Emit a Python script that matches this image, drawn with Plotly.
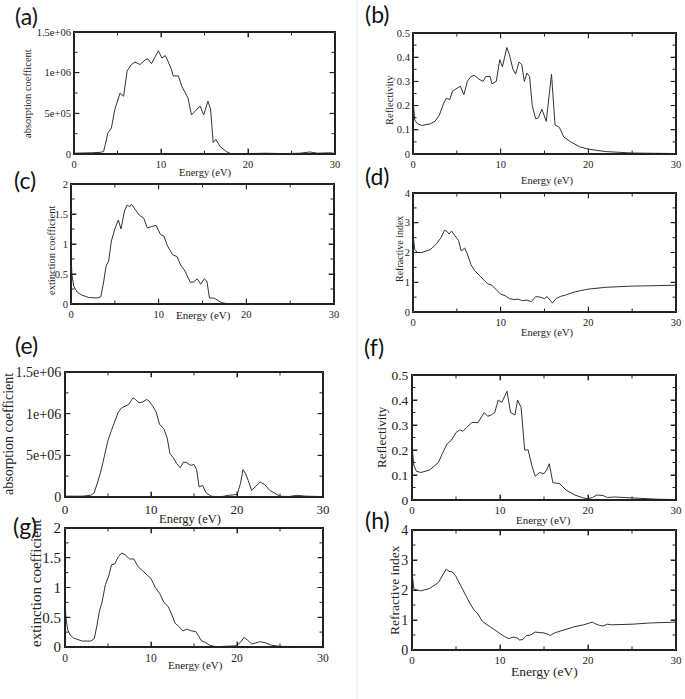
import plotly.graph_objects as go

W, H = 685, 699

# ---------------- data (energy eV, value) ----------------
X_RANGE = [0, 30]
X_MAJOR = [0, 10, 20, 30]
X_MINOR = [5, 15, 25]
ABS_ALIAS = {"0.5M": "5e+05", "500k": "5e+05", "1M": "1e+06", "1.5M": "1.5e+06"}

A_PTS = [(0, 1e4), (1, 1e4), (2, 1.5e4), (3, 2e4), (3.4, 3e4), (3.6, 1.2e5), (3.9, 2.6e5), (4.3, 3.2e5),
         (4.7, 5.5e5), (5.3, 7.5e5), (5.7, 7.1e5), (6.1, 1.02e6), (6.6, 1.10e6), (7.0, 1.13e6),
         (7.6, 1.10e6), (8.2, 1.16e6), (8.5, 1.17e6), (8.9, 1.11e6), (9.5, 1.22e6), (9.7, 1.27e6),
         (10.1, 1.18e6), (10.5, 1.21e6), (10.8, 1.14e6), (11.2, 1.04e6), (11.4, 0.96e6), (12.0, 0.96e6),
         (12.4, 0.83e6), (12.8, 0.75e6), (13.1, 0.69e6), (13.5, 0.48e6), (13.9, 0.52e6), (14.5, 0.59e6),
         (14.9, 0.48e6), (15.4, 0.65e6), (15.7, 0.55e6), (16.0, 0.14e6), (16.3, 0.18e6), (16.8, 0.09e6),
         (17.5, 0.03e6), (18.1, 0), (20, 5e3), (22, 1e4), (24, 5e3), (26, 1e4), (27.1, 2.5e4),
         (28, 1e4), (29.5, 1.5e4), (30, 5e3)]

B_PTS = [(0, 0.22), (0.1, 0.16), (0.2, 0.14), (0.5, 0.125), (1.0, 0.118), (2.0, 0.125), (2.5, 0.135),
         (3.0, 0.16), (3.5, 0.21), (3.8, 0.23), (4.2, 0.225), (4.5, 0.26), (5.0, 0.27), (5.4, 0.28),
         (5.8, 0.245), (6.2, 0.30), (6.6, 0.32), (7.0, 0.325), (7.5, 0.31), (8.0, 0.30), (8.3, 0.32),
         (8.8, 0.32), (9.0, 0.29), (9.5, 0.30), (9.9, 0.39), (10.2, 0.36), (10.7, 0.44), (11.0, 0.41),
         (11.4, 0.35), (11.7, 0.33), (12.1, 0.38), (12.4, 0.37), (12.7, 0.30), (13.0, 0.335), (13.3, 0.32),
         (13.6, 0.20), (14.0, 0.145), (14.3, 0.15), (14.7, 0.185), (15.2, 0.135), (15.8, 0.33), (16.2, 0.12),
         (16.7, 0.11), (17.2, 0.07), (18, 0.05), (19, 0.03), (20, 0.02), (22, 0.01), (25, 0.004), (30, 0.002)]

C_PTS = [(0, 0.8), (0.1, 0.5), (0.3, 0.3), (0.7, 0.2), (1.2, 0.15), (2, 0.11), (3, 0.1), (3.4, 0.12),
         (3.7, 0.35), (4.0, 0.63), (4.3, 0.72), (4.6, 1.05), (5.0, 1.25), (5.4, 1.40), (5.7, 1.25),
         (6.1, 1.55), (6.4, 1.65), (6.7, 1.62), (6.9, 1.66), (7.3, 1.57), (7.8, 1.48), (8.3, 1.43),
         (8.7, 1.27), (9.2, 1.29), (9.7, 1.31), (10.2, 1.16), (10.6, 1.13), (11.0, 0.97), (11.6, 0.82),
         (12.1, 0.79), (12.5, 0.65), (13.0, 0.55), (13.6, 0.36), (14.0, 0.37), (14.4, 0.42), (14.8, 0.33),
         (15.2, 0.42), (15.5, 0.38), (15.8, 0.1), (16.3, 0.1), (16.7, 0.06), (17.2, 0.02), (18, 0.003),
         (20, 0.002), (25, 0.003), (27, 0.005), (30, 0.004)]

D_PTS = [(0, 2.6), (0.2, 2.1), (0.5, 2.0), (1, 2.0), (2, 2.1), (2.7, 2.3), (3.2, 2.5), (3.6, 2.75),
         (3.9, 2.7), (4.1, 2.62), (4.4, 2.72), (4.8, 2.55), (5.2, 2.4), (5.5, 2.05), (5.9, 2.15),
         (6.2, 1.95), (6.6, 1.6), (7, 1.4), (7.5, 1.25), (8, 1.1), (8.5, 0.95), (9, 0.9), (9.5, 0.75),
         (10, 0.6), (10.5, 0.55), (11, 0.45), (11.5, 0.42), (12, 0.43), (12.5, 0.38), (13, 0.40),
         (13.5, 0.35), (14, 0.52), (14.5, 0.5), (15, 0.45), (15.3, 0.52), (15.7, 0.35), (15.9, 0.3),
         (16.3, 0.45), (16.8, 0.52), (17.5, 0.58), (18.5, 0.68), (20, 0.77), (22, 0.83), (25, 0.87),
         (28, 0.9), (30, 0.9)]

E_PTS = [(0, 1e4), (2, 1e4), (3, 2e4), (3.4, 5e4), (3.8, 1.8e5), (4.2, 3.2e5), (4.6, 5.0e5), (5.0, 6.8e5),
         (5.4, 8.0e5), (5.8, 9.2e5), (6.2, 1.02e6), (6.6, 1.07e6), (7.0, 1.09e6), (7.4, 1.11e6),
         (7.9, 1.19e6), (8.2, 1.17e6), (8.6, 1.13e6), (9.0, 1.14e6), (9.5, 1.17e6), (9.8, 1.15e6),
         (10.2, 1.09e6), (10.6, 1.02e6), (11.0, 0.87e6), (11.5, 0.82e6), (11.9, 0.70e6), (12.2, 0.52e6),
         (12.6, 0.47e6), (13.0, 0.40e6), (13.4, 0.35e6), (13.8, 0.42e6), (14.2, 0.41e6), (14.6, 0.38e6),
         (15.0, 0.39e6), (15.3, 0.33e6), (15.6, 0.12e6), (16.0, 0.14e6), (16.4, 0.05e6), (17, 1e4),
         (18, 0), (19, 2e4), (20, 3e4), (20.4, 1.6e5), (20.7, 3.3e5), (21.0, 2.8e5), (21.3, 2.0e5),
         (21.7, 0.8e5), (22.2, 1.3e5), (22.7, 1.8e5), (23.2, 1.5e5), (23.8, 0.8e5), (24.3, 0.5e5),
         (25, 1e4), (26, 5e3), (27, 2e4), (28, 1e4), (30, 5e3)]

F_PTS = [(0, 0.22), (0.2, 0.14), (0.5, 0.115), (1.0, 0.11), (2, 0.12), (3, 0.15), (3.5, 0.19), (4, 0.225),
         (4.5, 0.24), (5, 0.27), (5.4, 0.28), (5.8, 0.275), (6.2, 0.29), (6.8, 0.31), (7.5, 0.31),
         (7.9, 0.33), (8.2, 0.35), (8.6, 0.335), (9.0, 0.34), (9.4, 0.35), (9.8, 0.40), (10.2, 0.39),
         (10.8, 0.435), (11.2, 0.35), (11.7, 0.34), (12.0, 0.40), (12.4, 0.37), (12.8, 0.20), (13.2, 0.20),
         (13.6, 0.14), (14.0, 0.095), (14.5, 0.11), (15.0, 0.105), (15.3, 0.12), (15.6, 0.145), (16.0, 0.07),
         (16.8, 0.065), (17.5, 0.04), (18.5, 0.02), (19.5, 0.008), (20, 0.005), (20.5, 0.01), (21, 0.02),
         (21.7, 0.018), (22.2, 0.01), (23, 0.012), (24, 0.01), (26, 0.005), (28, 0.003), (30, 0.002)]

G_PTS = [(0, 0.8), (0.1, 0.5), (0.3, 0.3), (0.6, 0.2), (1, 0.15), (2, 0.1), (3, 0.1), (3.4, 0.14),
         (3.7, 0.35), (4, 0.6), (4.3, 0.75), (4.7, 1.05), (5.1, 1.2), (5.4, 1.38), (5.8, 1.4), (6.2, 1.52),
         (6.6, 1.58), (7.0, 1.55), (7.5, 1.48), (8.0, 1.48), (8.5, 1.35), (9.0, 1.28), (9.5, 1.22),
         (10.0, 1.15), (10.5, 1.0), (11.0, 0.90), (11.5, 0.75), (12.0, 0.68), (12.4, 0.55), (12.8, 0.40),
         (13.2, 0.35), (13.7, 0.27), (14.2, 0.30), (14.7, 0.27), (15.2, 0.26), (15.5, 0.2), (15.9, 0.1),
         (16.3, 0.08), (16.8, 0.03), (17.5, 0.005), (19, 0.01), (20, 0.02), (20.5, 0.1), (20.8, 0.16),
         (21.2, 0.12), (21.7, 0.05), (22.2, 0.07), (22.7, 0.09), (23.3, 0.07), (24, 0.03), (25, 0.01),
         (27, 0.01), (30, 0.005)]

H_PTS = [(0, 2.6), (0.2, 2.05), (0.5, 2.0), (1, 1.97), (2, 2.05), (3, 2.25), (3.5, 2.5), (3.9, 2.7),
         (4.2, 2.62), (4.6, 2.6), (5.0, 2.45), (5.5, 2.15), (6.0, 1.9), (6.5, 1.6), (7.0, 1.35), (7.5, 1.2),
         (8, 0.95), (8.5, 0.85), (9, 0.75), (9.5, 0.65), (10, 0.52), (10.5, 0.45), (11, 0.38), (11.5, 0.43),
         (12, 0.40), (12.2, 0.33), (12.6, 0.35), (13, 0.48), (13.5, 0.5), (14, 0.6), (14.5, 0.58),
         (15, 0.57), (15.5, 0.52), (15.7, 0.48), (16.2, 0.57), (16.8, 0.62), (17.5, 0.7), (18.5, 0.78),
         (19.5, 0.84), (20.2, 0.9), (20.5, 0.93), (20.8, 0.88), (21.3, 0.82), (21.7, 0.8), (22.2, 0.86),
         (22.7, 0.84), (23.5, 0.84), (25, 0.86), (27, 0.9), (30, 0.93)]

PANEL_LABELS = ["(a)", "(b)", "(c)", "(d)", "(e)", "(f)", "(g)", "(h)"]
Y_TITLES = ["absorption coefficent", "Reflectivity", "extinction coefficient", "Refractive index",
            "absorption coefficient", "Reflectivity", "extinction coefficient", "Refractive index"]
X_TITLE = "Energy (eV)"

# ---------------- layout geometry ----------------
SERIF = "Liberation Serif, Times New Roman, serif"
LINE = "#333333"
FRAME = "#222222"
MAJ_LEN, MIN_LEN = 5, 3

panels = [
    dict(pts=A_PTS, box=(74, 335, 32, 154), yr=[0, 1.5e6], dt=5e5, abs=True,
         lab=(26, 16), yt=(28, 94), xt=(205, 173), ytf=10.5, xtf=10.5, ytick=10.5, xtick=10.5),
    dict(pts=B_PTS, box=(413, 676, 33, 154), yr=[0, 0.5], dt=0.1, abs=False,
         lab=(377, 14), yt=(389, 100), xt=(547, 181), ytf=10.5, xtf=10.5, ytick=10.5, xtick=10.5),
    dict(pts=C_PTS, box=(71, 334, 184, 304), yr=[0, 2], dt=0.5, abs=False,
         lab=(25, 180), yt=(51, 251), xt=(203, 316), ytf=10.5, xtf=11, ytick=10.5, xtick=10.5),
    dict(pts=D_PTS, box=(413, 676, 193, 312), yr=[0, 4], dt=1, abs=False,
         lab=(377, 176), yt=(399, 249), xt=(547, 333), ytf=10, xtf=10.5, ytick=10.5, xtick=10.5),
    dict(pts=E_PTS, box=(65, 323, 372, 497), yr=[0, 1.5e6], dt=5e5, abs=True,
         lab=(26, 345), yt=(8, 434), xt=(190, 519), ytf=14, xtf=12.5, ytick=14, xtick=13),
    dict(pts=F_PTS, box=(412, 676, 375, 500), yr=[0, 0.5], dt=0.1, abs=False,
         lab=(374, 347), yt=(381, 437), xt=(543, 520), ytf=13, xtf=11, ytick=13.5, xtick=11),
    dict(pts=G_PTS, box=(65, 323, 528, 647), yr=[0, 2], dt=0.5, abs=False,
         lab=(25, 526), yt=(36, 583), xt=(195, 665), ytf=15, xtf=11, ytick=15, xtick=11.5),
    dict(pts=H_PTS, box=(412, 676, 530, 650), yr=[0, 4], dt=1, abs=False,
         lab=(377, 520), yt=(394, 590), xt=(544, 671), ytf=13.5, xtf=13.5, ytick=14, xtick=11),
]


def fx(p):
    return p / W


def fy(p):
    return 1 - p / H


fig = go.Figure()
layout = dict(template="none", width=W, height=H, margin=dict(l=0, r=0, t=0, b=0, pad=0),
              paper_bgcolor="white", plot_bgcolor="white", showlegend=False)
annotations = []
shapes = [dict(type="line", xref="paper", yref="paper", x0=fx(357), x1=fx(357), y0=0, y1=1,
               line=dict(color="#e6e6e6", width=1))]

for i, p in enumerate(panels):
    n = i + 1
    xa = "xaxis" if n == 1 else f"xaxis{n}"
    ya = "yaxis" if n == 1 else f"yaxis{n}"
    xr = "x" if n == 1 else f"x{n}"
    yr_ = "y" if n == 1 else f"y{n}"
    l, r, t, b = p["box"]
    dx, dy = [fx(l), fx(r)], [fy(b), fy(t)]
    xs = [e for e, _ in p["pts"]]
    ys = [v for _, v in p["pts"]]
    fig.add_trace(go.Scatter(x=xs, y=ys, mode="lines", xaxis=xr, yaxis=yr_, name=Y_TITLES[i],
                             line=dict(color=LINE, width=1), hoverinfo="skip"))

    # frame box + inside ticks on all four sides, drawn on the panel's own axes
    ux = (X_RANGE[1] - X_RANGE[0]) / (r - l)          # data units per pixel (x)
    uy = (p["yr"][1] - p["yr"][0]) / (b - t)          # data units per pixel (y)
    x0, x1 = X_RANGE[0] + 0.5 * ux, X_RANGE[1] - 0.5 * ux
    y0, y1 = p["yr"][0] + 0.5 * uy, p["yr"][1] - 0.5 * uy
    fxs = [x0, x1, x1, x0, x0, None]
    fys = [y0, y0, y1, y1, y0, None]
    nmaj = int(round((p["yr"][1] - p["yr"][0]) / p["dt"]))
    y_major = [p["yr"][0] + k * p["dt"] for k in range(1, nmaj)]
    y_minor = [p["yr"][0] + (k + 0.5) * p["dt"] for k in range(nmaj)]
    for vals, L in ((X_MAJOR[1:-1], MAJ_LEN), (X_MINOR, MIN_LEN)):
        for v in vals:
            fxs += [v, v, None, v, v, None]
            fys += [y0, y0 + L * uy, None, y1, y1 - L * uy, None]
    for vals, L in ((y_major, MAJ_LEN), (y_minor, MIN_LEN)):
        for v in vals:
            fxs += [x0, x0 + L * ux, None, x1, x1 - L * ux, None]
            fys += [v, v, None, v, v, None]
    fig.add_trace(go.Scatter(x=fxs, y=fys, mode="lines", xaxis=xr, yaxis=yr_, name="frame",
                             line=dict(color=FRAME, width=1), hoverinfo="skip", connectgaps=False))

    common = dict(showline=True, linecolor=FRAME, linewidth=1, mirror="ticks",
                  ticks="inside", ticklen=MAJ_LEN, tickwidth=1, tickcolor=FRAME,
                  showgrid=False, zeroline=False, automargin=False)
    layout[xa] = dict(common, domain=dx, range=X_RANGE, anchor=yr_,
                      tickmode="array", tickvals=X_MAJOR,
                      tickfont=dict(family=SERIF, size=p["xtick"], color="#222"))
    yax = dict(common, domain=dy, range=p["yr"], anchor=xr,
               tickmode="linear", tick0=0, dtick=p["dt"],
               tickfont=dict(family=SERIF, size=p["ytick"], color="#222"))
    if p["abs"]:
        yax.update(labelalias=ABS_ALIAS)
    layout[ya] = yax

    annotations.append(dict(text=PANEL_LABELS[i], x=fx(p["lab"][0]), y=fy(p["lab"][1]),
                            xref="paper", yref="paper", showarrow=False,
                            xanchor="center", yanchor="middle",
                            font=dict(family="Lato, Open Sans, sans-serif", size=23, color="#111")))
    annotations.append(dict(text=Y_TITLES[i], x=fx(p["yt"][0]), y=fy(p["yt"][1]),
                            xref="paper", yref="paper", showarrow=False, textangle=-90,
                            xanchor="center", yanchor="middle",
                            font=dict(family=SERIF, size=p["ytf"], color="#222")))
    annotations.append(dict(text=X_TITLE, x=fx(p["xt"][0]), y=fy(p["xt"][1]),
                            xref="paper", yref="paper", showarrow=False,
                            xanchor="center", yanchor="middle",
                            font=dict(family=SERIF, size=p["xtf"], color="#222")))

layout["annotations"] = annotations
layout["shapes"] = shapes
fig.update_layout(**layout)
fig.write_html("out.html", config={"displayModeBar": False, "staticPlot": True},
               post_script="document.body.style.margin='0';document.body.style.padding='0';")
